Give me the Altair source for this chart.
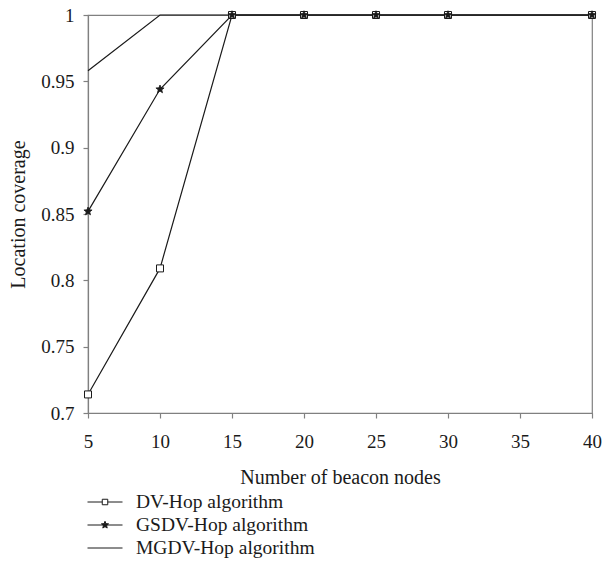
import math
import altair as alt
import pandas as pd

beacons = [5, 10, 15, 20, 25, 30, 40]
dv_hop = [0.714, 0.809, 1.0, 1.0, 1.0, 1.0, 1.0]
gsdv_hop = [0.852, 0.944, 1.0, 1.0, 1.0, 1.0, 1.0]
mgdv_hop = [0.958, 1.0, 1.0, 1.0, 1.0, 1.0, 1.0]
series_names = ["DV-Hop algorithm", "GSDV-Hop algorithm", "MGDV-Hop algorithm"]
x_ticks = [5, 10, 15, 20, 25, 30, 35, 40]
y_ticks = [0.7, 0.75, 0.8, 0.85, 0.9, 0.95, 1.0]

rows = []
for name, vals in zip(series_names, [dv_hop, gsdv_hop, mgdv_hop]):
    for b, v in zip(beacons, vals):
        rows.append({"beacons": b, "coverage": v, "series": name})
df = pd.DataFrame(rows)


def star_path(R, r, cx=0.0):
    pts = []
    for i in range(10):
        ang = -math.pi / 2 + i * math.pi / 5
        rad = R if i % 2 == 0 else r
        pts.append((cx + rad * math.cos(ang), rad * math.sin(ang)))
    return "M" + "L".join(f"{x:.3f},{y:.3f}" for x, y in pts) + "Z"


square = "M-0.5,-0.5H0.5V0.5H-0.5Z"
star = star_path(0.75, 0.32)

# legend symbols: line + marker
L = 1.4
sq_l = 0.22
leg_dv = f"M{-L},0H{-sq_l}M{sq_l},0H{L}M{-sq_l},{-sq_l}H{sq_l}V{sq_l}H{-sq_l}Z"
leg_gs = f"M{-L},0H{L}" + star_path(0.3, 0.13)
leg_mg = f"M{-L},0H{L}"

INK = "#1a1a1a"
AX = "#808080"
FONT = "Liberation Serif"
x_enc = alt.X("beacons:Q", scale=alt.Scale(domain=[5, 40], nice=False, zero=False),
              axis=alt.Axis(values=x_ticks, title="Number of beacon nodes", titlePadding=16,
                            labelPadding=14, labelFlush=False, labelOverlap=False))
y_enc = alt.Y("coverage:Q", scale=alt.Scale(domain=[0.7, 1.0], nice=False, zero=False),
              axis=alt.Axis(values=y_ticks, format="~g", title="Location coverage", titlePadding=12,
                            labelPadding=9, labelFlush=False, labelOverlap=False))

lines = alt.Chart(df).mark_line(strokeWidth=1.2, color=INK).encode(
    x=x_enc, y=y_enc, detail="series:N"
)

dv_pts = alt.Chart(df).transform_filter(alt.datum.series == series_names[0]).mark_point(
    shape=square, size=196, filled=True, fill="white", stroke=INK, strokeWidth=1, opacity=1
).encode(x="beacons:Q", y="coverage:Q")

gs_pts = alt.Chart(df).transform_filter(alt.datum.series == series_names[1]).mark_point(
    shape=star, size=130, filled=True, fill=INK, stroke=INK, strokeWidth=0.8, opacity=1
).encode(x="beacons:Q", y="coverage:Q")

legend = alt.Legend(
    title=None, orient="none", legendX=4, legendY=474, direction="vertical",
    symbolOpacity=1, symbolStrokeColor=INK, symbolStrokeWidth=1.0, symbolSize=625,
    labelFont=FONT, labelFontSize=19.5, labelColor=INK, labelOffset=18, labelLimit=400,
    rowPadding=0, symbolOffset=0,
)
legend_layer = alt.Chart(df).mark_point(opacity=0, size=1, filled=False).encode(
    x="beacons:Q", y="coverage:Q",
    shape=alt.Shape("series:N", scale=alt.Scale(domain=series_names, range=[leg_dv, leg_gs, leg_mg]),
                    legend=legend),
    fill=alt.Fill("series:N", scale=alt.Scale(domain=series_names, range=["white", INK, "transparent"]),
                  legend=legend),
    stroke=alt.Stroke("series:N", scale=alt.Scale(domain=series_names, range=[INK, INK, INK]),
                      legend=legend),
)

chart = alt.layer(legend_layer, lines, dv_pts, gs_pts).properties(
    width=504, height=398,
    background="white",
    autosize=alt.AutoSizeParams(type="none"),
    padding={"left": 80, "top": 7, "right": 10, "bottom": 147},
).configure_view(stroke=AX, strokeWidth=1.2).configure_axis(
    grid=False, domainColor=AX, tickColor=AX, domainWidth=1.2, tickWidth=1.2,
    tickSize=5, labelFont=FONT, titleFont=FONT, labelFontSize=19, titleFontSize=20,
    labelColor=INK, titleColor=INK, titleFontWeight="normal",
)

chart.save("out.html", embed_options={"renderer": "svg", "actions": False})
